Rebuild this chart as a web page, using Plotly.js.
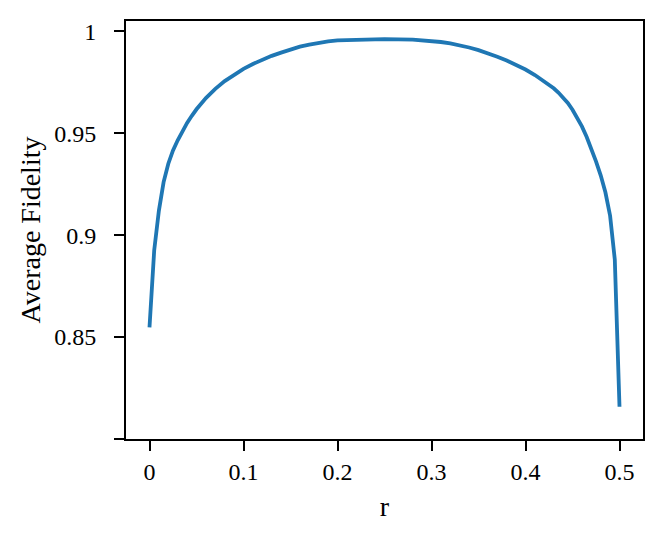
<!DOCTYPE html>
<html>
<head>
<meta charset="utf-8">
<script src="https://cdn.plot.ly/plotly-3.0.1.min.js"></script>
<style>html,body{margin:0;padding:0;background:#fff;}#chart{width:664px;height:541px;}</style>
</head>
<body>
<div id="chart"></div>
<script>
const rValues = [0, 0.005, 0.01, 0.015, 0.02, 0.025, 0.03, 0.035, 0.04, 0.045, 0.05, 0.06, 0.07, 0.08, 0.09,
  0.1, 0.11, 0.12, 0.13, 0.14, 0.15, 0.16, 0.17, 0.18, 0.19, 0.2, 0.22, 0.25, 0.28, 0.3, 0.31, 0.32, 0.33, 0.34, 0.35, 0.36, 0.37, 0.38, 0.39, 0.4,
  0.41, 0.42, 0.43, 0.435, 0.44, 0.445, 0.45, 0.455, 0.46, 0.465, 0.47, 0.475, 0.48, 0.485, 0.49, 0.495, 0.5];
const fidelity = [0.8548, 0.8925, 0.912, 0.926, 0.935, 0.9415, 0.9465, 0.951, 0.955, 0.9585, 0.9617, 0.9672, 0.9717, 0.9755, 0.9787,
  0.9815, 0.9839, 0.986, 0.9879, 0.9895, 0.9911, 0.9924, 0.9934, 0.9943, 0.995, 0.9955, 0.9959, 0.9961, 0.9959, 0.9953, 0.9947, 0.994, 0.9931, 0.992, 0.9907, 0.9892, 0.9875, 0.9856, 0.9835, 0.9812,
  0.9785, 0.9755, 0.972, 0.9699, 0.9675, 0.9648, 0.9615, 0.9577, 0.9533, 0.9482, 0.9425, 0.9362, 0.9293, 0.921, 0.9095, 0.888, 0.8158];
const xTickVals = [0, 0.1, 0.2, 0.3, 0.4, 0.5];
const xTickText = ['0', '0.1', '0.2', '0.3', '0.4', '0.5'];
const yTickVals = [0.8, 0.85, 0.9, 0.95, 1];
const yTickText = ['', '0.85', '0.9', '0.95', '1'];

const tickFont = {family: 'Liberation Serif, serif', size: 24, color: '#000'};
const titleFont = {family: 'Liberation Serif, serif', size: 28, color: '#000'};

Plotly.newPlot('chart', [{
  x: rValues, y: fidelity, type: 'scatter', mode: 'lines',
  line: {color: '#1f77b4', width: 3.8}
}], {
  width: 664, height: 541,
  margin: {l: 126, r: 21, t: 21, b: 102, pad: 0},
  paper_bgcolor: '#fff', plot_bgcolor: '#fff',
  showlegend: false,
  font: tickFont,
  xaxis: {
    range: [-0.025, 0.525], tickvals: xTickVals, ticktext: xTickText,
    ticks: 'outside', ticklen: 10, tickwidth: 2, tickcolor: '#000',
    showline: true, linecolor: '#000', linewidth: 2, mirror: true,
    showgrid: false, zeroline: false, ticklabelstandoff: 0,
    tickfont: tickFont,
    title: {text: 'r', font: titleFont, standoff: 13}
  },
  yaxis: {
    range: [0.8, 1.005], tickvals: yTickVals, ticktext: yTickText,
    ticks: 'outside', ticklen: 10, tickwidth: 2, tickcolor: '#000',
    showline: true, linecolor: '#000', linewidth: 2, mirror: true,
    showgrid: false, zeroline: false, ticklabelstandoff: 13,
    tickfont: tickFont,
    title: {text: 'Average Fidelity', font: titleFont, standoff: 5}
  }
}, {staticPlot: true, displayModeBar: false});
</script>
</body>
</html>
